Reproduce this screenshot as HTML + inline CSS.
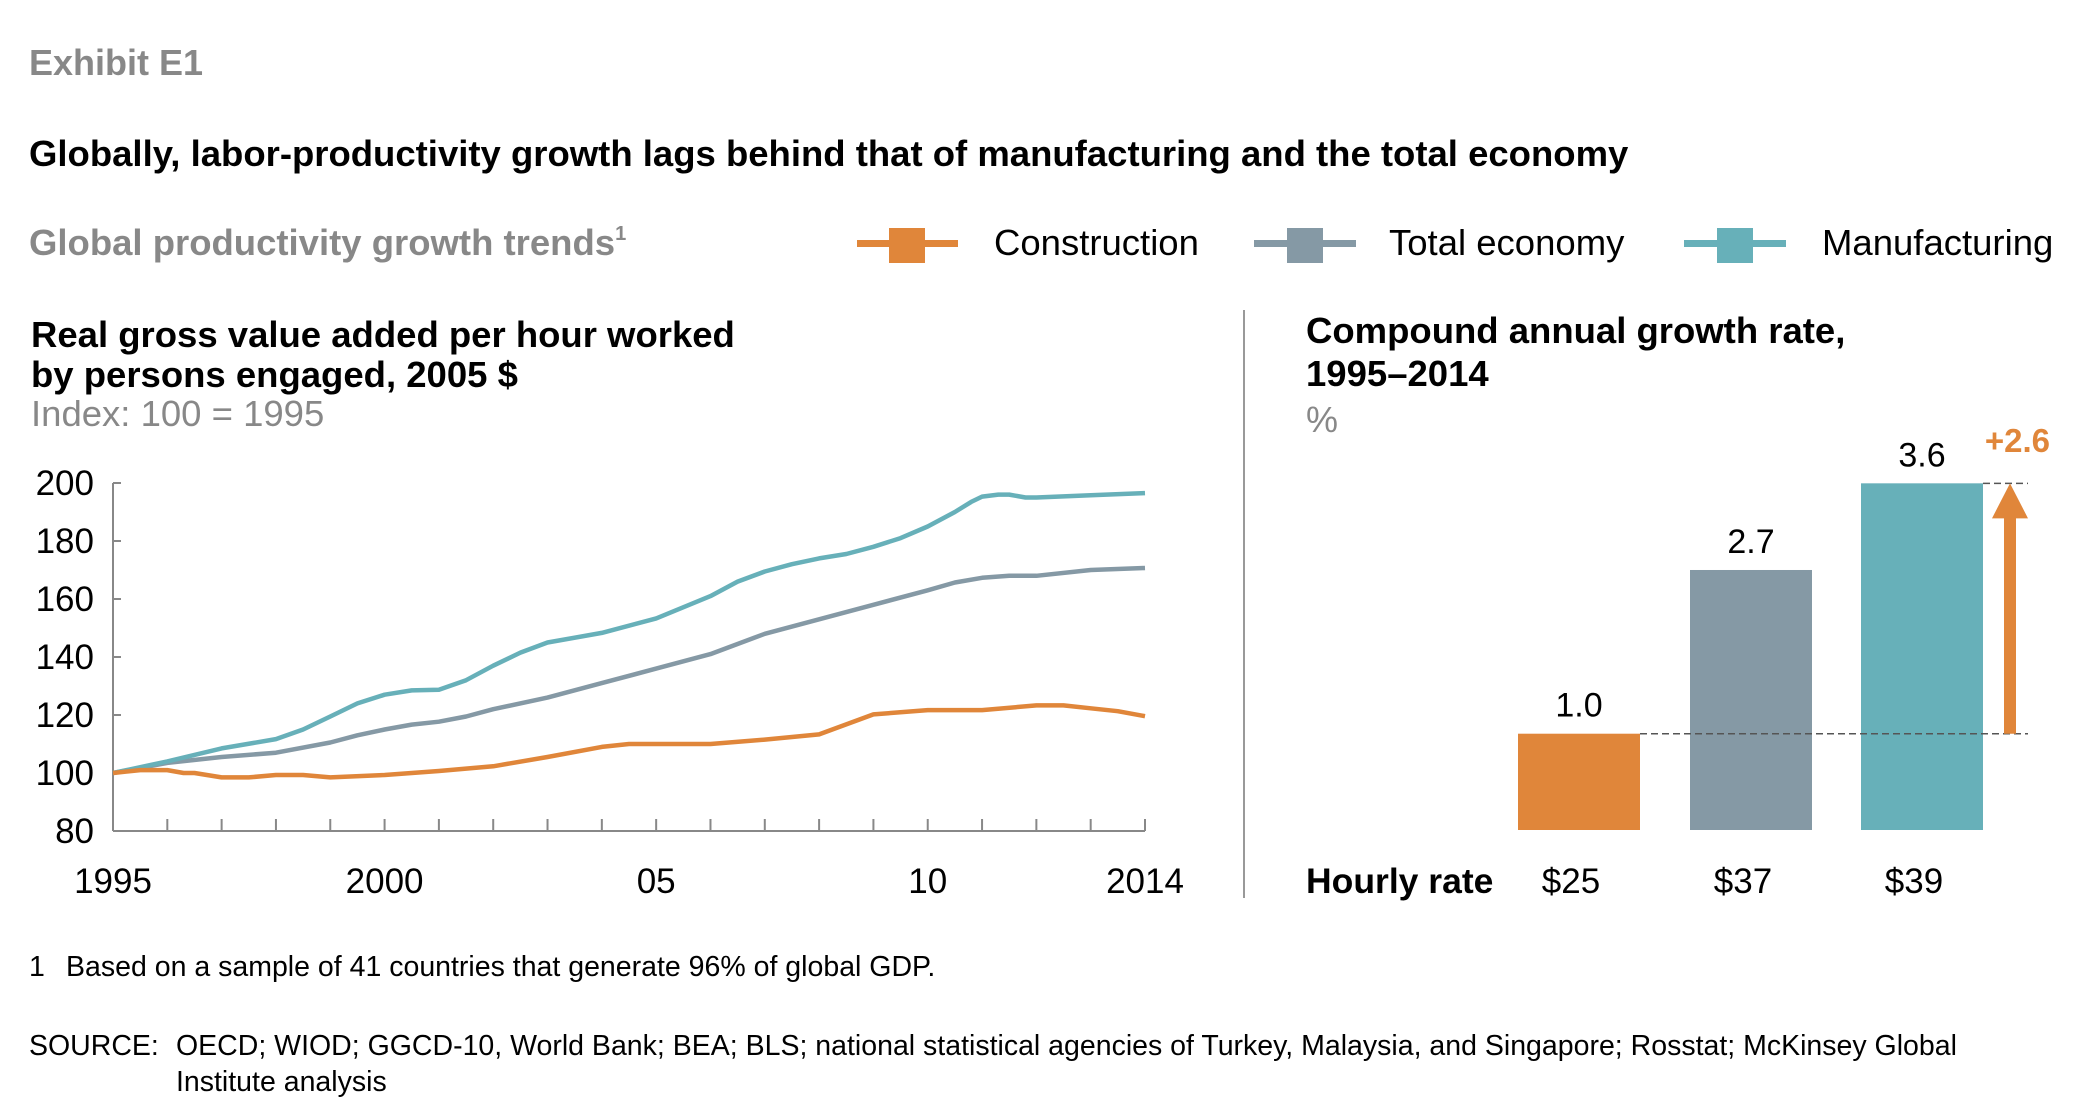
<!DOCTYPE html>
<html><head><meta charset="utf-8"><style>
body{margin:0;background:#fff;}
svg{display:block;font-family:"Liberation Sans",Arial,sans-serif;}
</style></head><body>
<svg width="2082" height="1112" viewBox="0 0 2082 1112">
<text x="29" y="75" font-size="36" font-weight="bold" fill="#888">Exhibit E1</text>
<text x="29" y="166" font-size="36.5" font-weight="bold" fill="#000">Globally, labor-productivity growth lags behind that of manufacturing and the total economy</text>
<text x="29" y="255" font-size="36.5" font-weight="bold" fill="#888">Global productivity growth trends<tspan font-size="20" dy="-15">1</tspan></text>
<g>
<g><rect x="857" y="240" width="101" height="7" fill="#e0863a"/><rect x="889" y="228" width="36" height="35" fill="#e0863a"/><text x="994" y="255" font-size="36.5" fill="#000">Construction</text></g>
<g><rect x="1254" y="240" width="102" height="7" fill="#8599a5"/><rect x="1287" y="228" width="36" height="35" fill="#8599a5"/><text x="1389" y="255" font-size="36.5" fill="#000">Total economy</text></g>
<g><rect x="1684" y="240" width="102" height="7" fill="#67b0b9"/><rect x="1717" y="228" width="36" height="35" fill="#67b0b9"/><text x="1822" y="255" font-size="36.5" fill="#000">Manufacturing</text></g>
</g>
<text x="31" y="347" font-size="36.5" font-weight="bold" fill="#000">Real gross value added per hour worked</text>
<text x="31" y="387" font-size="36.5" font-weight="bold" fill="#000">by persons engaged, 2005 $</text>
<text x="31" y="426" font-size="36.5" fill="#888">Index: 100 = 1995</text>
<g id="left"></g>
<line x1="1244" y1="310" x2="1244" y2="898" stroke="#999" stroke-width="2"/>
<text x="1306" y="343" font-size="36.5" font-weight="bold" fill="#000">Compound annual growth rate,</text>
<text x="1306" y="386" font-size="36.5" font-weight="bold" fill="#000">1995–2014</text>
<text x="1306" y="432" font-size="36" fill="#888">%</text>
<g id="right"></g>
<text x="1306" y="893" font-size="35.5" font-weight="bold" fill="#000">Hourly rate</text>
<text x="29" y="976" font-size="28.5" fill="#000">1</text>
<text x="66" y="976" font-size="28.5" fill="#000">Based on a sample of 41 countries that generate 96% of global GDP.</text>
<text x="29" y="1055" font-size="28.5" fill="#000">SOURCE:</text>
<text x="176" y="1055" font-size="28.5" fill="#000">OECD; WIOD; GGCD-10, World Bank; BEA; BLS; national statistical agencies of Turkey, Malaysia, and Singapore; Rosstat; McKinsey Global</text>
<text x="176" y="1091" font-size="28.5" fill="#000">Institute analysis</text>
</svg>
<script>
const yTicks=[80,100,120,140,160,180,200];
const xLabelYears=[1995,2000,2005,2010,2014];
const xLabelText=["1995","2000","05","10","2014"];
const conYears=[1995,1995.5,1996,1996.3,1996.5,1997,1997.5,1998,1998.5,1999,2000,2001,2002,2003,2004,2004.5,2005,2006,2007,2008,2009,2010,2011,2012,2012.5,2013,2013.5,2014];
const conVals=[100,101,101,100,100,98.5,98.5,99.3,99.3,98.5,99.3,100.7,102.3,105.5,109,110,110,110,111.5,113.3,120.2,121.7,121.7,123.3,123.3,122.3,121.3,119.6];
const totYears=[1995,1996,1997,1998,1999,1999.5,2000,2000.5,2001,2001.5,2002,2003,2004,2005,2006,2007,2008,2009,2010,2010.5,2011,2011.5,2012,2013,2014];
const totVals=[100,103.5,105.5,107,110.5,113,115,116.7,117.7,119.5,122,126,131,136,141,148,153,158,163,165.7,167.3,168,168,170,170.7];
const manYears=[1995,1996,1997,1998,1998.5,1999,1999.5,2000,2000.5,2001,2001.5,2002,2002.5,2003,2004,2005,2006,2006.5,2007,2007.5,2008,2008.5,2009,2009.5,2010,2010.5,2010.8,2011,2011.3,2011.5,2011.8,2012,2013,2014];
const manVals=[100,104,108.5,111.7,115,119.5,124,127,128.5,128.7,132,137,141.5,145,148.3,153.3,161,166,169.5,172,174,175.5,178,181,185,190,193.5,195.3,196,196,195,195,195.8,196.5];
const barNames=["construction","total-economy","manufacturing"];
const barVals=[1.0,2.7,3.6];
const barRates=["$25","$37","$39"];
const barColors=["#e0863a","#8599a5","#67b0b9"];
const NS="http://www.w3.org/2000/svg";
function mk(p,t,a){const e=document.createElementNS(NS,t);for(const k in a)e.setAttribute(k,a[k]);p.appendChild(e);return e;}
const L=document.getElementById('left');
const X0=113,X1=1145,Y0=831,Y1=483;
const xs=y=>X0+(y-1995)/(2014-1995)*(X1-X0);
const ys=v=>Y0-(v-80)/(200-80)*(Y0-Y1);
let e=mk(L,'line',{x1:X0,y1:Y1,x2:X0,y2:Y0,stroke:'#888','stroke-width':2});


e=mk(L,'line',{x1:X0,y1:Y0,x2:X1,y2:Y0,stroke:'#888','stroke-width':2});


for(let y=1995;y<=2014;y++){e=mk(L,'line',{x1:xs(y),y1:Y0,x2:xs(y),y2:Y0-12,stroke:'#888','stroke-width':2});

}
yTicks.forEach(v=>{e=mk(L,'line',{x1:X0,y1:ys(v),x2:X0+8,y2:ys(v),stroke:'#888','stroke-width':2});


e=mk(L,'text',{x:94,y:ys(v)+12,'font-size':35,'text-anchor':'end',fill:'#000'});e.textContent=v;

});
xLabelYears.forEach((y,i)=>{e=mk(L,'text',{x:xs(y),y:893,'font-size':35,'text-anchor':'middle',fill:'#000'});e.textContent=xLabelText[i];

});
function line(yrs,vals,c,n){const d=yrs.map((y,i)=>(i?'L':'M')+xs(y).toFixed(1)+' '+ys(vals[i]).toFixed(1)).join(' ');
const p=mk(L,'path',{d:d,fill:'none',stroke:c,'stroke-width':4.5,'stroke-linejoin':'round'});

}
line(totYears,totVals,'#8599a5','line-total-economy');
line(manYears,manVals,'#67b0b9','line-manufacturing');
line(conYears,conVals,'#e0863a','line-construction');
const R=document.getElementById('right');
const B0=830,PPU=96.3,BW=122,bx=[1518,1690,1861];
const by=v=>B0-v*PPU;
barVals.forEach((v,i)=>{e=mk(R,'rect',{x:bx[i],y:by(v),width:BW,height:v*PPU,fill:barColors[i]});


e=mk(R,'text',{x:bx[i]+BW/2,y:by(v)-17,'font-size':34,'text-anchor':'middle',fill:'#000'});e.textContent=v.toFixed(1);


e=mk(R,'text',{x:bx[i]+BW/2-8,y:893,'font-size':35,'text-anchor':'middle',fill:'#000'});e.textContent=barRates[i];

});
const lo=by(barVals[0]),hi=by(barVals[2]);
e=mk(R,'line',{x1:bx[0]+BW,y1:lo,x2:2028,y2:lo,stroke:'#555','stroke-width':1.5,'stroke-dasharray':'7 4'});


e=mk(R,'line',{x1:bx[2]+BW,y1:hi,x2:2028,y2:hi,stroke:'#555','stroke-width':1.5,'stroke-dasharray':'7 4'});


const ax=2010;
e=mk(R,'path',{d:`M${ax-6} ${lo} L${ax-6} ${hi+35} L${ax-18} ${hi+35} L${ax} ${hi} L${ax+18} ${hi+35} L${ax+6} ${hi+35} L${ax+6} ${lo} Z`,fill:'#e0863a'});


e=mk(R,'text',{x:2050,y:452,'font-size':33,'font-weight':'bold','text-anchor':'end',fill:'#e0863a'});e.textContent='+'+(barVals[2]-barVals[0]).toFixed(1);


</script>
</body></html>
